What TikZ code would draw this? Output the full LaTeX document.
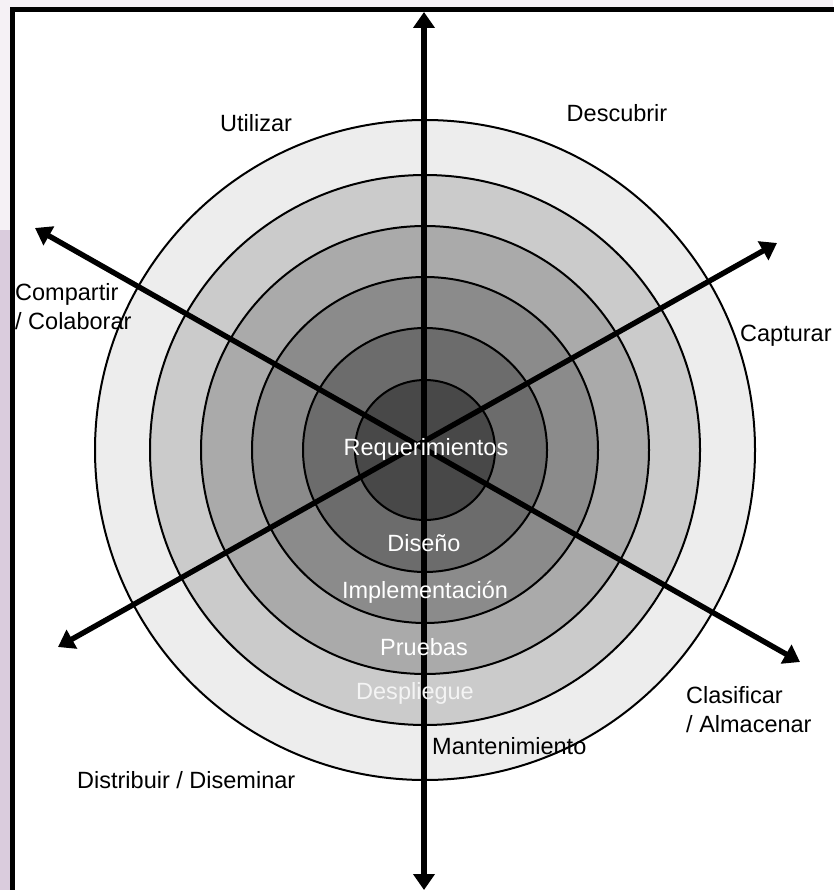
\documentclass[tikz,border=0pt]{standalone}
\usepackage{fontspec}
\setmainfont{Liberation Sans}
\usetikzlibrary{arrows.meta}
\definecolor{bgpale}{HTML}{F5F1F5}
\definecolor{bgside}{HTML}{DACCDD}
\definecolor{ringA}{HTML}{EDEDED}
\definecolor{ringB}{HTML}{CBCBCB}
\definecolor{ringC}{HTML}{AAAAAA}
\definecolor{ringD}{HTML}{8B8B8B}
\definecolor{ringE}{HTML}{6C6C6C}
\definecolor{ringF}{HTML}{484848}
\definecolor{fadetext}{HTML}{F4F4F4}
\begin{document}
\begin{tikzpicture}[x=1pt,y=-1pt,
  ring/.style={circle, draw=black, line width=2pt, inner sep=0pt},
  axis/.style={line width=5.4pt,
    {Triangle[length=16pt,width=21pt]}-{Triangle[length=16pt,width=21pt]}},
  lbl/.style={font=\fontsize{23.5}{29}\selectfont, inner sep=0pt},
  inlbl/.style={lbl, text=white}]
\useasboundingbox (0,0) rectangle (833,890);
% slide background and frame
\fill[bgpale] (0,0) rectangle (833,890);
\fill[bgside] (0,230) rectangle (12,890);
\draw[line width=5pt, fill=white] (12.5,9.5) rectangle (870,930);

% concentric rings
\coordinate (c) at (425,450);
\node[ring, fill=ringA, minimum size=660pt] (ring6) at (c) {};
\node[ring, fill=ringB, minimum size=550pt] (ring5) at (c) {};
\node[ring, fill=ringC, minimum size=448pt] (ring4) at (c) {};
\node[ring, fill=ringD, minimum size=346pt] (ring3) at (c) {};
\node[ring, fill=ringE, minimum size=244pt] (ring2) at (c) {};
\node[ring, fill=ringF, minimum size=140pt] (ring1) at (c) {};

% axis end points
\coordinate (top) at (424,12);
\coordinate (bottom) at (424,890);
\coordinate (ul) at (35,228);
\coordinate (lr) at (800,662);
\coordinate (ll) at (58,647);
\coordinate (ur) at (777,243);

\draw[axis] (bottom) -- (top);
\draw[axis] (ul) -- (lr);
\draw[axis] (ll) -- (ur);

% outer labels
\node[lbl] (utilizar) at (256,123) {Utilizar};
\node[lbl] (descubrir) at (617,113) {Descubrir};
\node[lbl, anchor=west, align=left] (compartir) at (15,307) {Compartir\\/ Colaborar};
\node[lbl, anchor=west] (capturar) at (740,336) {Capturar};
\node[lbl, anchor=west, align=left] (clasificar) at (686,710) {Clasificar\\/ Almacenar};
\node[lbl, anchor=west] (distribuir) at (77,780) {Distribuir / Diseminar};
\node[lbl, anchor=west] (mantenimiento) at (432,746) {Mantenimiento};

% ring labels
\node[inlbl] (req) at (426,449) {Requerimientos};
\node[inlbl] (diseno) at (424,543) {Diseño};
\node[inlbl] (impl) at (425,592) {Implementación};
\node[inlbl] (pruebas) at (424,647) {Pruebas};
\node[lbl, text=fadetext] (despliegue) at (415,693) {Despliegue};
\end{tikzpicture}
\end{document}
